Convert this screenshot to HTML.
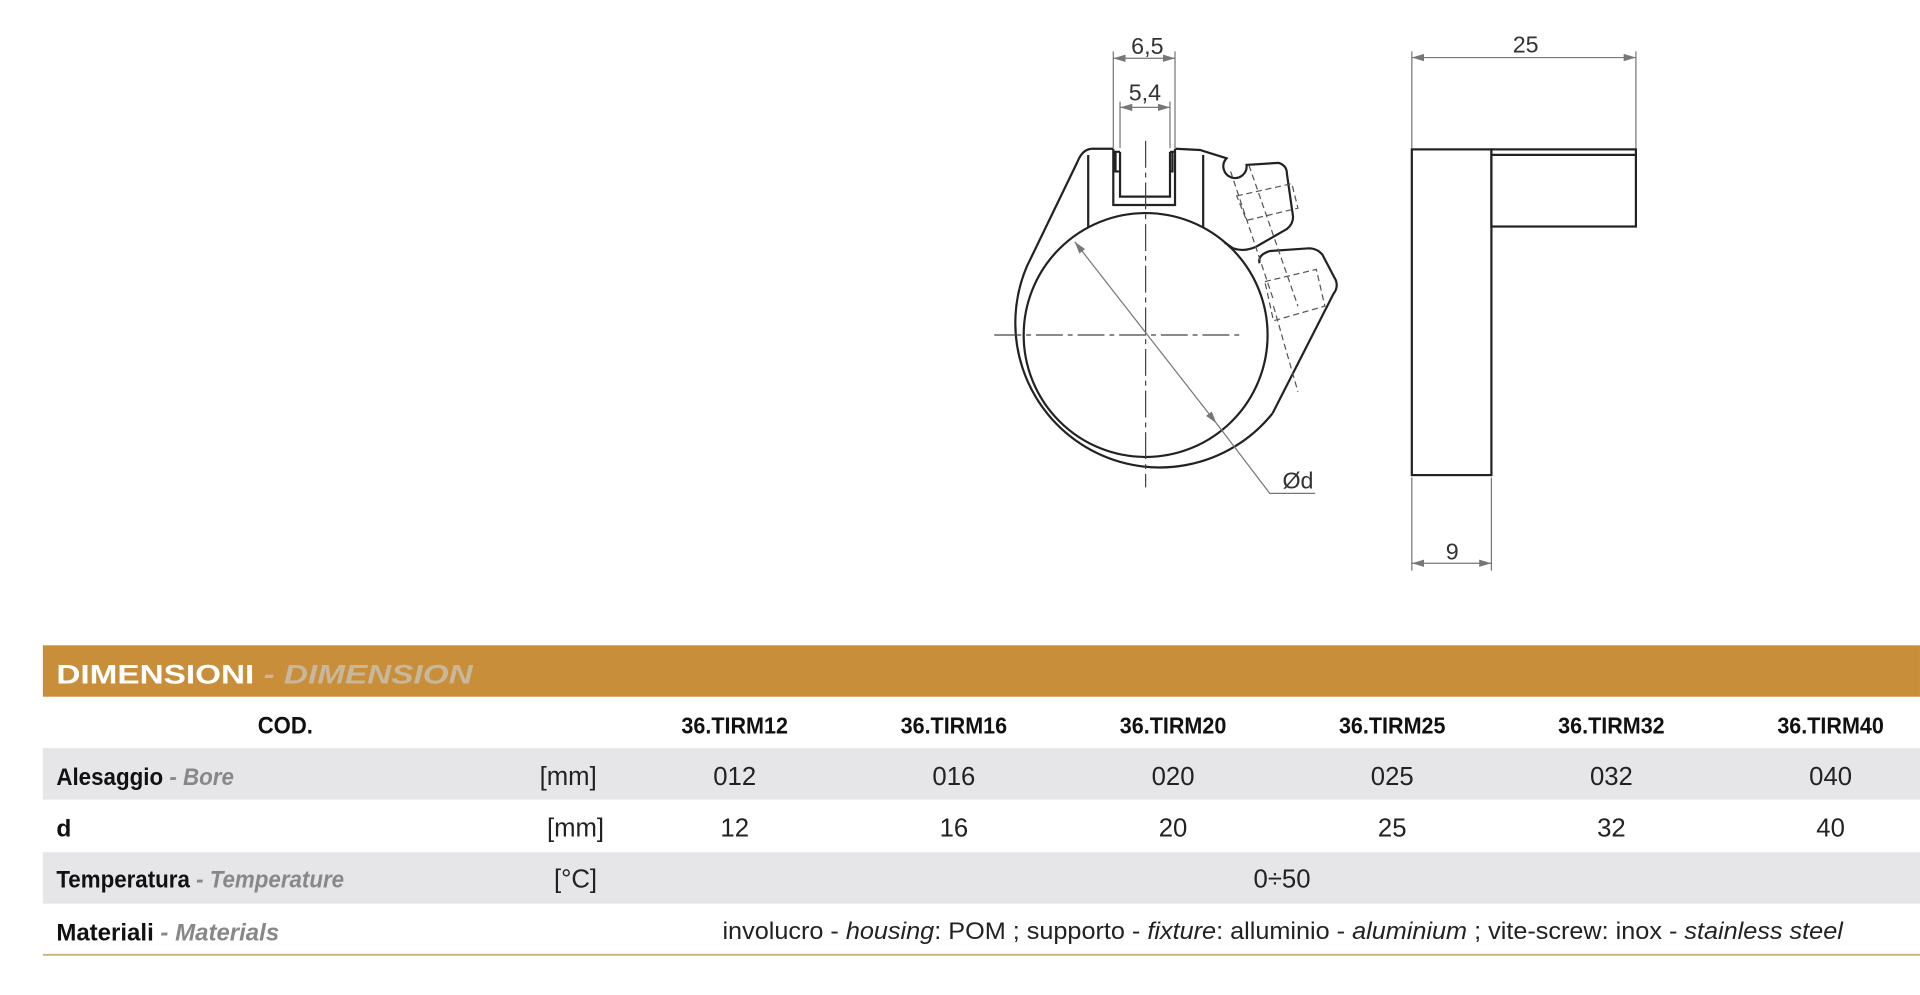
<!DOCTYPE html>
<html><head><meta charset="utf-8"><style>
html,body{margin:0;padding:0;background:#fff;width:1920px;height:995px;overflow:hidden}
svg{display:block}
.c{font-family:"Liberation Sans Narrow","Liberation Sans",sans-serif}
.d{font-family:"Liberation Sans",sans-serif}
</style></head><body>
<svg width="1920" height="995" viewBox="0 0 1568 812.6" xmlns="http://www.w3.org/2000/svg">
<defs>
<marker id="a" viewBox="0 0 10 6" refX="10" refY="3" markerWidth="10" markerHeight="6" orient="auto-start-reverse" markerUnits="userSpaceOnUse"><path d="M0,0L10,3L0,6z" fill="#777"/></marker>
</defs>
<rect width="1568" height="812.6" fill="#fff"/>
<g fill="none" stroke="#222" stroke-width="1.8">
<path d="M891.5,121.5 L909,121.5 M960,121.5 L980,122.5 L1001.7,129.3 A9.5,9.5 0 1 0 1018,134.7 L1044,133 Q1051,135 1051,142 L1056,177 Q1056,183 1051,187 L1026,201.4 Q1016,206 1007,202.8 L1000,198"/>
<path d="M1028.6,215 Q1027,208 1037,205 L1069,202.8 Q1076,203 1080,208 L1091,229 Q1093,235 1089,240 L1039.3,337.5"/>
<path d="M891.5,121.5 Q884,122 880,132 L838.5,217.8 A118,118 0 0 0 1039.3,337.5"/>
<circle cx="935.6" cy="273.6" r="99.6"/>
<path d="M888.7,126.6 V186 M982.6,126.6 V186"/>
<path d="M909.2,121.5 V167.4 H959.6 V121.5 M914.7,124 V160.6 H955.5 V124 M909.2,124 H914.7 M955.5,124 H959.6 M911,124 V140 H914.7 M957.5,124 V140 H955.5"/>
</g>
<g fill="none" stroke="#555" stroke-width="1" stroke-dasharray="5,3">
<path d="M1005,140 L1040,245 M1020,135 L1060,250 M1010,160 L1055,150 L1060,170 L1018,180 z M1033,230 L1075,220 L1082,250 L1040,262 z M1040,250 L1060,320"/>
</g>
<g stroke="#444" stroke-width="1" stroke-dasharray="22,4,4,4" fill="none">
<path d="M812,273.6 H1012"/><path d="M935.6,115 V398"/>
</g>
<g stroke="#777" stroke-width="1" fill="none">
<path d="M909.2,42 V121 M959.6,42 V121 M914.7,83 V121 M955.5,83 V121"/>
<path d="M909.2,47.6 H959.6" marker-start="url(#a)" marker-end="url(#a)"/>
<path d="M914.7,87.7 H955.5" marker-start="url(#a)" marker-end="url(#a)"/>
<path d="M877.7,197.4 L993.4,345.7" marker-start="url(#a)" marker-end="url(#a)"/>
<path d="M993.4,345.7 L1037,402.9 H1074"/>
<path d="M1153,42 V121 M1336,42 V121 M1153,390 V466 M1218,390 V466"/>
<path d="M1153,47 H1336" marker-start="url(#a)" marker-end="url(#a)"/>
<path d="M1153,460 H1218" marker-start="url(#a)" marker-end="url(#a)"/>
</g>
<g class="d" fill="#333" font-size="19" text-anchor="middle">
<text x="937" y="44">6,5</text><text x="935" y="82">5,4</text>
<text x="1060" y="399">Ød</text><text x="1246" y="43">25</text><text x="1186" y="457">9</text>
</g>
<g fill="none" stroke="#222" stroke-width="1.8">
<rect x="1153" y="122" width="65" height="266"/>
<rect x="1218" y="122" width="118" height="63"/>
<path d="M1218,126.5 H1336"/>
</g>
<rect x="35" y="527" width="1533" height="42" fill="#C98E3A"/>
<rect x="35" y="611" width="1533" height="42" fill="#E6E6E8"/>
<rect x="35" y="696" width="1533" height="42" fill="#E6E6E8"/>
<rect x="35" y="779" width="1533" height="1.5" fill="#C9B17A"/>
<text x="46" y="558" class="d" font-size="22" font-weight="bold" fill="#fff" textLength="340" lengthAdjust="spacingAndGlyphs">DIMENSIONI <tspan fill="#C8B79A" font-style="italic">- DIMENSION</tspan></text>
<g class="c" font-weight="bold" fill="#111" font-size="20">
<text x="233" y="599" text-anchor="middle" textLength="45" lengthAdjust="spacingAndGlyphs">COD.</text>
<text x="46" y="641" textLength="145" lengthAdjust="spacingAndGlyphs">Alesaggio <tspan fill="#888" font-style="italic">- Bore</tspan></text>
<text x="46" y="683">d</text>
<text x="46" y="725" textLength="235" lengthAdjust="spacingAndGlyphs">Temperatura <tspan fill="#888" font-style="italic">- Temperature</tspan></text>
<text x="46" y="768" textLength="182" lengthAdjust="spacingAndGlyphs">Materiali <tspan fill="#888" font-style="italic">- Materials</tspan></text>
</g>
<g class="c" font-weight="bold" fill="#111" font-size="19" text-anchor="middle">
<text x="600" y="599" textLength="87" lengthAdjust="spacingAndGlyphs">36.TIRM12</text><text x="779" y="599" textLength="87" lengthAdjust="spacingAndGlyphs">36.TIRM16</text><text x="958" y="599" textLength="87" lengthAdjust="spacingAndGlyphs">36.TIRM20</text>
<text x="1137" y="599" textLength="87" lengthAdjust="spacingAndGlyphs">36.TIRM25</text><text x="1316" y="599" textLength="87" lengthAdjust="spacingAndGlyphs">36.TIRM32</text><text x="1495" y="599" textLength="87" lengthAdjust="spacingAndGlyphs">36.TIRM40</text>
</g>
<g class="c" fill="#222" font-size="21" text-anchor="middle">
<text x="464" y="641">[mm]</text><text x="470" y="683">[mm]</text><text x="470" y="725">[°C]</text>
<text x="600" y="641">012</text><text x="779" y="641">016</text><text x="958" y="641">020</text>
<text x="1137" y="641">025</text><text x="1316" y="641">032</text><text x="1495" y="641">040</text>
<text x="600" y="683">12</text><text x="779" y="683">16</text><text x="958" y="683">20</text>
<text x="1137" y="683">25</text><text x="1316" y="683">32</text><text x="1495" y="683">40</text>
<text x="1047" y="725">0÷50</text>
</g>
<text x="590" y="767" class="c" fill="#222" font-size="20" textLength="915" lengthAdjust="spacingAndGlyphs">involucro - <tspan font-style="italic">housing</tspan>: POM ; supporto - <tspan font-style="italic">fixture</tspan>: alluminio - <tspan font-style="italic">aluminium</tspan> ; vite-screw: inox - <tspan font-style="italic">stainless steel</tspan></text>
</svg>
</body></html>
